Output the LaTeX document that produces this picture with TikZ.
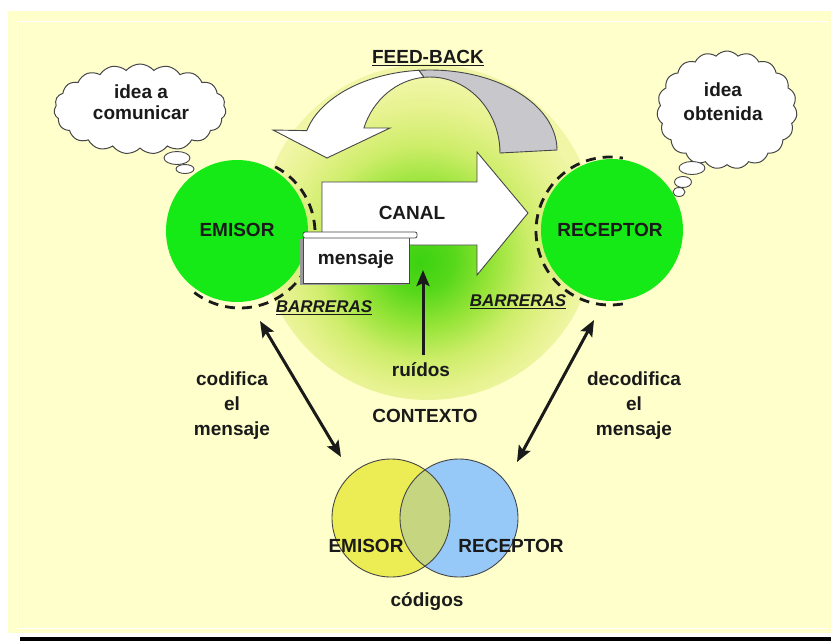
\documentclass[tikz,border=0pt]{standalone}
\usepackage{fontspec}
\setmainfont{Liberation Sans}
\usetikzlibrary{shapes.symbols,arrows.meta,calc}

\definecolor{paper}{RGB}{255,255,204}
\definecolor{ink}{RGB}{26,26,26}
\definecolor{edge}{RGB}{70,70,70}
\definecolor{ball}{RGB}{22,234,22}
\definecolor{fbgray}{RGB}{200,200,204}
\definecolor{vyellow}{RGB}{236,236,84}
\definecolor{vblue}{RGB}{150,200,248}
\definecolor{vlens}{RGB}{198,214,128}
\definecolor{glowA}{RGB}{58,210,18}
\definecolor{glowB}{RGB}{88,216,26}
\definecolor{glowC}{RGB}{150,228,56}
\definecolor{glowD}{RGB}{206,237,106}
\definecolor{glowE}{RGB}{230,242,142}
\definecolor{glowF}{RGB}{240,246,166}

% eccentric glow: the green core sits a little below the centre of the disc
% (the disc's radius corresponds to 25bp of the shading)
\pgfdeclareradialshading{ctxglow}{\pgfpoint{-1.2bp}{-4.5bp}}{%
  color(0bp)=(glowA); color(5bp)=(glowB); color(10.5bp)=(glowC);
  color(16bp)=(glowD); color(21bp)=(glowE); color(25bp)=(glowF);
  color(50bp)=(glowF)}

\begin{document}
\begin{tikzpicture}[x=1pt,y=-1pt,
  lbl/.style={font=\fontsize{19}{22}\selectfont\bfseries, text=ink, inner sep=0pt, align=center},
  small/.style={font=\fontsize{17}{20}\selectfont\bfseries\itshape, text=ink, inner sep=0pt},
  greenball/.style={circle, fill=ball, minimum size=142pt, inner sep=0pt},
  barrier/.style={draw=ink, line width=2.8pt, dash pattern=on 10pt off 7pt},
  bigarrow/.style={fill=white, draw=edge, line width=0.9pt, line join=miter},
  thought/.style={cloud, cloud puffs=19, cloud puff arc=100, draw=edge, fill=white, line width=1pt, inner sep=0pt},
  bubble/.style={draw=edge, fill=white, line width=0.9pt},
  link/.style={draw=ink, line width=3pt, {Stealth[length=16pt,width=13pt,inset=3pt]}-{Stealth[length=16pt,width=13pt,inset=3pt]}},
  pointer/.style={draw=ink, line width=3pt, -{Stealth[length=16pt,width=13pt,inset=3pt]}}
]
\useasboundingbox (0,0) rectangle (831,641);

% page and panel
\fill[white] (0,0) rectangle (831,641);
\fill[paper] (8,11) rectangle (831,633);
\draw[white, line width=1pt] (17,21) rectangle (827,628);
\fill[black] (20,637) rectangle (831,641);

% context glow
\shade[shading=ctxglow] (428,232) circle[radius=168];

% feedback curved arrow
\coordinate (fbo) at (430,150);
\coordinate (fbi) at (430,153);
\filldraw[fill=fbgray, draw=edge, line width=0.9pt]
  ($(fbo)+(-95:127 and 80)$) arc[start angle=-95, end angle=0, x radius=127, y radius=80]
  -- (500,153) arc[start angle=0, end angle=-95, x radius=70, y radius=76] -- cycle;
\filldraw[bigarrow]
  ($(fbo)+(-95:127 and 80)$) arc[start angle=-95, end angle=-166, x radius=127, y radius=80]
  -- (273,130) -- (327,158) -- (390,128)
  -- ($(fbi)+(-160.8:70 and 76)$) arc[start angle=-160.8, end angle=-95, x radius=70, y radius=76] -- cycle;
\node[lbl] (fb) at (428,58) {\underline{FEED-BACK}};

% thought clouds
\node[thought, minimum width=172pt, minimum height=90pt] (cl) at (140,109) {};
\node[lbl, font=\fontsize{19}{21}\selectfont\bfseries] (clt) at (141,102) {idea a\\comunicar};
\draw[bubble] (177,158) ellipse[x radius=13, y radius=6.5];
\draw[bubble] (185,169) ellipse[x radius=9, y radius=4.5];

\node[thought, minimum width=140pt, minimum height=118pt] (cr) at (727,110) {};
\node[lbl, font=\fontsize{19}{24}\selectfont\bfseries] (crt) at (723,102) {idea\\obtenida};
\draw[bubble] (692,168) ellipse[x radius=13, y radius=6.5];
\draw[bubble] (683,182) ellipse[x radius=8.5, y radius=5.5];
\draw[bubble] (679,192) ellipse[x radius=6, y radius=4.5];

% sender and receiver
\node[greenball] (em) at (237,231) {};
\node[greenball] (re) at (612,230) {};
\node[lbl] (emt) at (237,230) {EMISOR};
\node[lbl] (ret) at (610,230) {RECEPTOR};

% barriers
\draw[barrier] ($(240,233)+(-62:75)$) arc[start angle=-62, end angle=128, radius=75];
\draw[barrier] ($(610,231)+(80:74)$) arc[start angle=80, end angle=280, radius=74];
\node[small] (b1) at (324,308) {\underline{BARRERAS}};
\node[small] (b2) at (518,302) {\underline{BARRERAS}};

% channel
\filldraw[bigarrow] (322,182) -- (477,182) -- (477,152) -- (528,213)
  -- (477,275) -- (477,245) -- (322,245) -- cycle;
\node[lbl] (canal) at (412,213) {CANAL};

% message card
\fill[edge!55] (300,239) rectangle (406,285);
\node[draw=edge, fill=white, line width=0.9pt, minimum width=106pt, minimum height=46pt,
      inner sep=0pt, lbl] (msg) at (356,260) {mensaje};
\filldraw[fill=white, draw=edge, line width=0.8pt, rounded corners=2pt]
  (303,232) rectangle (417,238);

% noise
\node[lbl] (ruido) at (421,370) {ruídos};
\coordinate (rtip) at (423,270);
\draw[pointer] (ruido.north -| rtip) ++(0,-8) -- (rtip);

\node[lbl] (ctx) at (425,416) {CONTEXTO};

% codes
\node[circle, fill=vyellow, minimum size=118pt, inner sep=0pt] (cy) at (391,518) {};
\node[circle, fill=vblue, minimum size=118pt, inner sep=0pt] (cb) at (459,518) {};
\begin{scope}
  \clip (391,518) circle[radius=59];
  \fill[vlens] (459,518) circle[radius=59];
\end{scope}
\draw[edge, line width=0.9pt] (391,518) circle[radius=59];
\draw[edge, line width=0.9pt] (459,518) circle[radius=59];
\node[lbl] (cyt) at (366,546) {EMISOR};
\node[lbl] (cbt) at (511,546) {RECEPTOR};
\node[lbl] (cod) at (427,602) {códigos};

% encoding and decoding links
\coordinate (l1) at (260,321);
\coordinate (l2) at (341,457);
\coordinate (r1) at (594,320);
\coordinate (r2) at (517,462);
\draw[link] (l1) -- (l2);
\draw[link] (r1) -- (r2);
\node[lbl, font=\fontsize{19}{25}\selectfont\bfseries] (enc) at (232,406) {codifica\\el\\mensaje};
\node[lbl, font=\fontsize{19}{25}\selectfont\bfseries] (dec) at (634,406) {decodifica\\el\\mensaje};
\end{tikzpicture}
\end{document}
